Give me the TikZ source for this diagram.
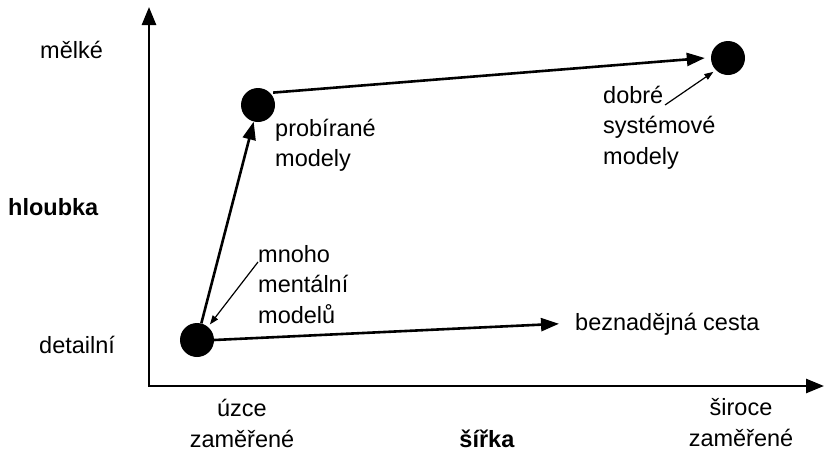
\documentclass[tikz,border=0pt]{standalone}
\usepackage{fontspec}
\setmainfont{Liberation Sans}
\usetikzlibrary{arrows.meta}
\begin{document}
\begin{tikzpicture}[x=1pt,y=-1pt,
  lbl/.style={inner sep=0pt, font=\fontsize{23.5}{30.5}\selectfont},
  dot/.style={circle, fill=black, minimum size=34pt, inner sep=0pt},
  axis/.style={line width=2.6pt, line join=miter, {Triangle[length=18pt,width=14pt]}-{Triangle[length=18pt,width=14pt]}},
  bigarrow/.style={line width=2.6pt, -{Triangle[length=18pt,width=13pt]}},
  smallarrow/.style={line width=1.2pt, -{Triangle[length=9pt,width=6.5pt]}}]
\useasboundingbox (0,0) rectangle (825,453);
\coordinate (o) at (149,386);
\coordinate (ytip) at (149,7);
\coordinate (xtip) at (824,386);
\draw[axis] (ytip) -- (o) -- (xtip);

\node[dot] (d) at (197,340) {};
\node[dot] (p) at (258,105) {};
\node[dot] (g) at (728,58) {};

\node[lbl, anchor=base west] (melke) at (40,58) {mělké};
\node[lbl, anchor=base west] (hloubka) at (8,215) {\textbf{hloubka}};
\node[lbl, anchor=base west] (detailni) at (39,353) {detailní};
\node[lbl, anchor=base west, align=left] (prob) at (275,166.5) {probírané\\modely};
\node[lbl, anchor=base west, align=left] (dobre) at (603,164) {dobré\\systémové\\modely};
\node[lbl, anchor=base west, align=left] (mnoho) at (258,323) {mnoho\\mentální\\modelů};
\node[lbl, anchor=base west] (bez) at (575,330) {beznadějná cesta};
\node[lbl, anchor=base, align=center] (uzce) at (242,447) {úzce\\zaměřené};
\node[lbl, anchor=base] (sirka) at (487,447) {\textbf{šířka}};
\node[lbl, anchor=base, align=center] (siroce) at (741,446) {široce\\zaměřené};

\coordinate (dobreend) at (665,105);
\coordinate (mnohoend) at (258,262);

\draw[bigarrow] (d) -- (p);
\draw[bigarrow, shorten <=3pt] (p.45) -- ([xshift=-6pt]g.west);
\draw[bigarrow] (d.east) -- ([xshift=-16pt]bez.west);
\draw[smallarrow, shorten >=3pt] (mnohoend) -- (d.50);
\draw[smallarrow, shorten >=3pt] (dobreend) -- (g.225);
\end{tikzpicture}
\end{document}
